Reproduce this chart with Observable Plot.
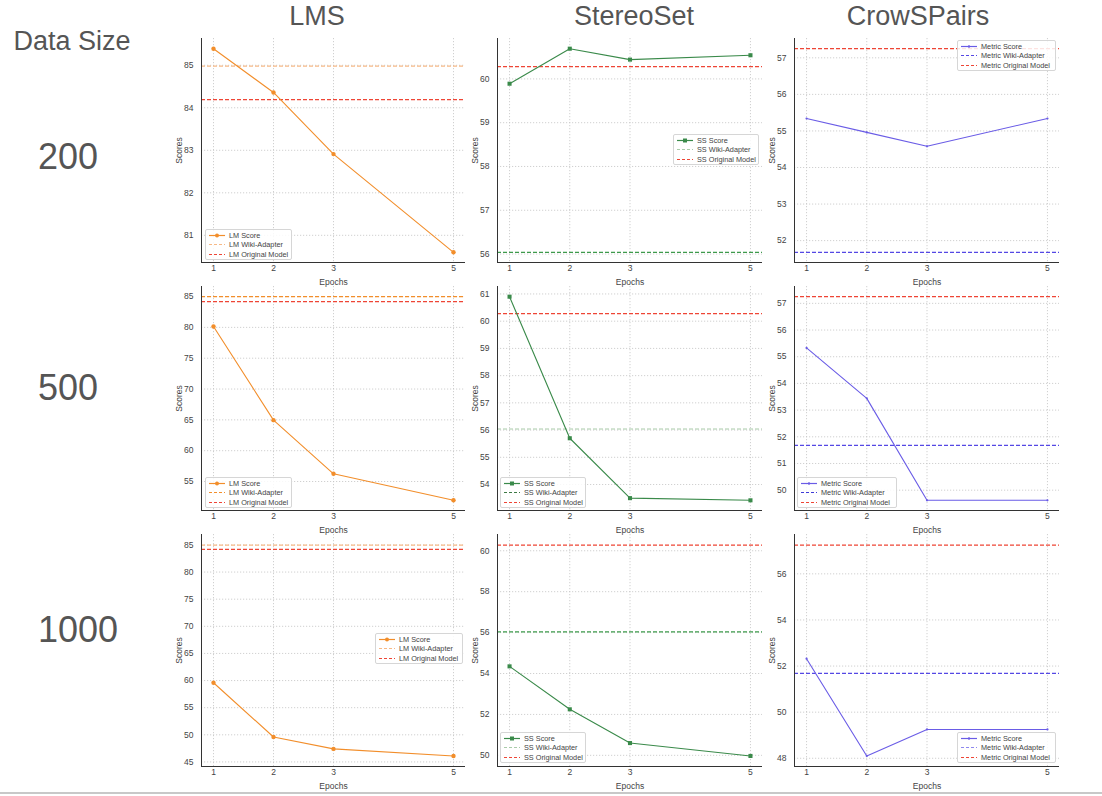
<!DOCTYPE html>
<html><head><meta charset="utf-8">
<script src="https://cdn.jsdelivr.net/npm/d3@7"></script>
<script src="https://cdn.jsdelivr.net/npm/@observablehq/plot@0.6"></script>
<style>
body{margin:0;background:#fff;font-family:"Liberation Sans",Arial,sans-serif;}
#root{position:relative;width:1102px;height:796px;overflow:hidden;background:#fff;}
.lbl{position:absolute;color:#555;white-space:nowrap;transform:translate(-50%,-50%);line-height:1;}
.legend{position:absolute;background:rgba(255,255,255,0.85);border:1px solid #d6d6d6;border-radius:2px;font-size:7.3px;color:#444;box-sizing:border-box;}
.legend .it{position:absolute;left:0;height:9px;display:flex;align-items:center;white-space:nowrap;}
.legend svg{display:block;margin-left:3px;margin-right:4px;}
#bottomline{position:absolute;left:0;top:792px;width:1102px;height:2px;background:#c8c8c8;}
</style></head>
<body><div id="root"></div>
<script>
// ---- data ----
const epochs = [1, 2, 3, 5];
const dataSizes = ["200", "500", "1000"];
const benchmarks = ["LMS", "StereoSet", "CrowSPairs"];
const seriesPrefix = ["LM", "SS", "Metric"];

const lm200 = [85.39, 84.36, 82.91, 80.60];
const lm500 = [80.15, 64.95, 56.25, 51.95];
const lm1000 = [59.60, 49.60, 47.40, 46.10];
const ss200 = [59.89, 60.69, 60.44, 60.54];
const ss500 = [60.90, 55.70, 53.50, 53.42];
const ss1000 = [54.35, 52.25, 50.60, 49.97];
const cp200 = [55.34, 54.96, 54.58, 55.34];
const cp500 = [55.33, 53.44, 49.62, 49.62];
const cp1000 = [52.32, 48.10, 49.25, 49.25];

const wikiAdapter = [84.98, 56.04, 51.68];   // LM, SS, CrowS
const originalModel = [84.19, 60.28, 57.25];

const lmTicks200 = [81, 82, 83, 84, 85];
const lmTicks500 = [55, 60, 65, 70, 75, 80, 85];
const lmTicks1000 = [45, 50, 55, 60, 65, 70, 75, 80, 85];
const ssTicks200 = [56, 57, 58, 59, 60];
const ssTicks500 = [54, 55, 56, 57, 58, 59, 60, 61];
const ssTicks1000 = [50, 52, 54, 56, 58, 60];
const cpTicks200 = [52, 53, 54, 55, 56, 57];
const cpTicks500 = [50, 51, 52, 53, 54, 55, 56, 57];
const cpTicks1000 = [48, 50, 52, 54, 56];

const scoreGrid = [[lm200, ss200, cp200], [lm500, ss500, cp500], [lm1000, ss1000, cp1000]];
const tickGrid = [[lmTicks200, ssTicks200, cpTicks200], [lmTicks500, ssTicks500, cpTicks500], [lmTicks1000, ssTicks1000, cpTicks1000]];

// ---- styles ----
const scoreColor = ["#f28e2b", "#3a8a4a", "#6a5ce6"];
const symbols = ["circle", "square", "circle"];
const dotR = [2.2, 2.3, 1.1];
const wikiLineColor = [["#f7b986", "#3d9a4b", "#5548e4"], ["#f28e2b", "#a9cba9", "#5548e4"], ["#f7b986", "#3d9a4b", "#5548e4"]];
const wikiLegendColor = [["#f7b986", "#a9cba9", "#5548e4"], ["#f28e2b", "#3d7a45", "#3e3ad8"], ["#f7b986", "#a9cba9", "#8e88ee"]];
const redColor = "#ee4535";

// layout (plot area pixel boxes)
const colLeft = [201, 497, 794], colRight = [465, 762, 1059];
const rowTop = [38, 286, 534], rowBottom = [262, 510, 766];
const ML = 34, MR = 3, MT = 3, MB = 28;
// legend boxes [left, top, width]
const legendPos = [
  [[205, 229, 87], [673, 134, 86], [957, 40, 99]],
  [[205, 477, 87], [500, 477, 86], [797, 477, 100]],
  [[375, 633, 88], [500, 732, 86], [957, 732, 99]]
];

const root = document.getElementById("root");

function label(text, x, y, size) {
  const d = document.createElement("div");
  d.className = "lbl"; d.textContent = text;
  d.style.left = x + "px"; d.style.top = y + "px"; d.style.fontSize = size + "px";
  root.appendChild(d);
}
label("Data Size", 72, 41, 27);
dataSizes.forEach((s, i) => label(s, [68, 68, 78][i], [157, 388, 630][i], 36));
benchmarks.forEach((b, i) => label(b, [317, 634, 918][i], 16, 27));

function pad(vals) {
  const lo = d3.min(vals), hi = d3.max(vals), p = (hi - lo) * 0.05;
  return [lo - p, hi + p];
}
const xDomain = pad(epochs);

function legend(r, c) {
  const [lx, ly, lw] = legendPos[r][c];
  const box = document.createElement("div");
  box.className = "legend";
  Object.assign(box.style, {left: lx + "px", top: ly + "px", width: lw + "px", height: "31px"});
  const pre = seriesPrefix[c];
  const items = [
    {t: pre + " Score", col: scoreColor[c], dash: null, marker: true},
    {t: pre + " Wiki-Adapter", col: wikiLegendColor[r][c], dash: "3,2"},
    {t: pre + " Original Model", col: redColor, dash: "3,2"}
  ];
  items.forEach((it, i) => {
    const row = document.createElement("div");
    row.className = "it";
    row.style.top = (1 + i * 9.3) + "px";
    let mk = "";
    if (it.marker) {
      mk = c === 1 ? `<rect x="6" y="2.5" width="4" height="4" fill="${it.col}"/>` :
           `<circle cx="8" cy="4.5" r="${c === 0 ? 2 : 1.2}" fill="${it.col}"/>`;
    }
    row.innerHTML = `<svg width="16" height="9"><line x1="0" x2="16" y1="4.5" y2="4.5" stroke="${it.col}" stroke-width="1.2" ${it.dash ? `stroke-dasharray="${it.dash}"` : ""}/>${mk}</svg><span>${it.t}</span>`;
    box.appendChild(row);
  });
  root.appendChild(box);
}

for (let r = 0; r < 3; r++) {
  for (let c = 0; c < 3; c++) {
    const vals = scoreGrid[r][c];
    const rows = epochs.map((e, i) => ({epoch: e, score: vals[i]}));
    const yDomain = pad([...vals, wikiAdapter[c], originalModel[c]]);
    const ticks = tickGrid[r][c];
    const w = colRight[c] - colLeft[c] + ML + MR;
    const h = rowBottom[r] - rowTop[r] + MT + MB;
    const svg = Plot.plot({
      width: w, height: h,
      marginLeft: ML, marginRight: MR, marginTop: MT, marginBottom: MB,
      style: {fontFamily: "Liberation Sans, Arial, sans-serif", fontSize: "8.5px", color: "#444", background: "transparent", overflow: "visible"},
      x: {domain: xDomain},
      y: {domain: yDomain},
      marks: [
        Plot.gridX(epochs, {stroke: "#c4c4c4", strokeOpacity: 1, strokeDasharray: "1.2,1.8", strokeWidth: 0.8}),
        Plot.gridY(ticks, {stroke: "#c4c4c4", strokeOpacity: 1, strokeDasharray: "1.2,1.8", strokeWidth: 0.8}),
        Plot.ruleY([wikiAdapter[c]], {stroke: wikiLineColor[r][c], strokeWidth: 1.2, strokeDasharray: "4,2"}),
        Plot.ruleY([originalModel[c]], {stroke: redColor, strokeWidth: 1.2, strokeDasharray: "4,2"}),
        Plot.line(rows, {x: "epoch", y: "score", stroke: scoreColor[c], strokeWidth: 1.1}),
        Plot.dot(rows, {x: "epoch", y: "score", symbol: symbols[c], r: dotR[c], fill: scoreColor[c], stroke: "none"}),
        Plot.ruleX([xDomain[0]], {stroke: "#333", strokeWidth: 1}),
        Plot.ruleY([yDomain[0]], {stroke: "#333", strokeWidth: 1}),
        Plot.axisY(ticks, {tickSize: 0, tickPadding: 8, label: "Scores", labelAnchor: "center", labelArrow: "none", labelOffset: 26, fill: "#444"}),
        Plot.axisX(epochs, {tickSize: 0, tickPadding: 2, tickFormat: d => String(d), label: "Epochs", labelAnchor: "center", labelArrow: "none", labelOffset: 22, fill: "#444"})
      ]
    });
    svg.style.position = "absolute";
    svg.style.left = (colLeft[c] - ML) + "px";
    svg.style.top = (rowTop[r] - MT) + "px";
    root.appendChild(svg);
    legend(r, c);
  }
}
const bl = document.createElement("div");
bl.id = "bottomline";
root.appendChild(bl);
</script>
</body></html>
